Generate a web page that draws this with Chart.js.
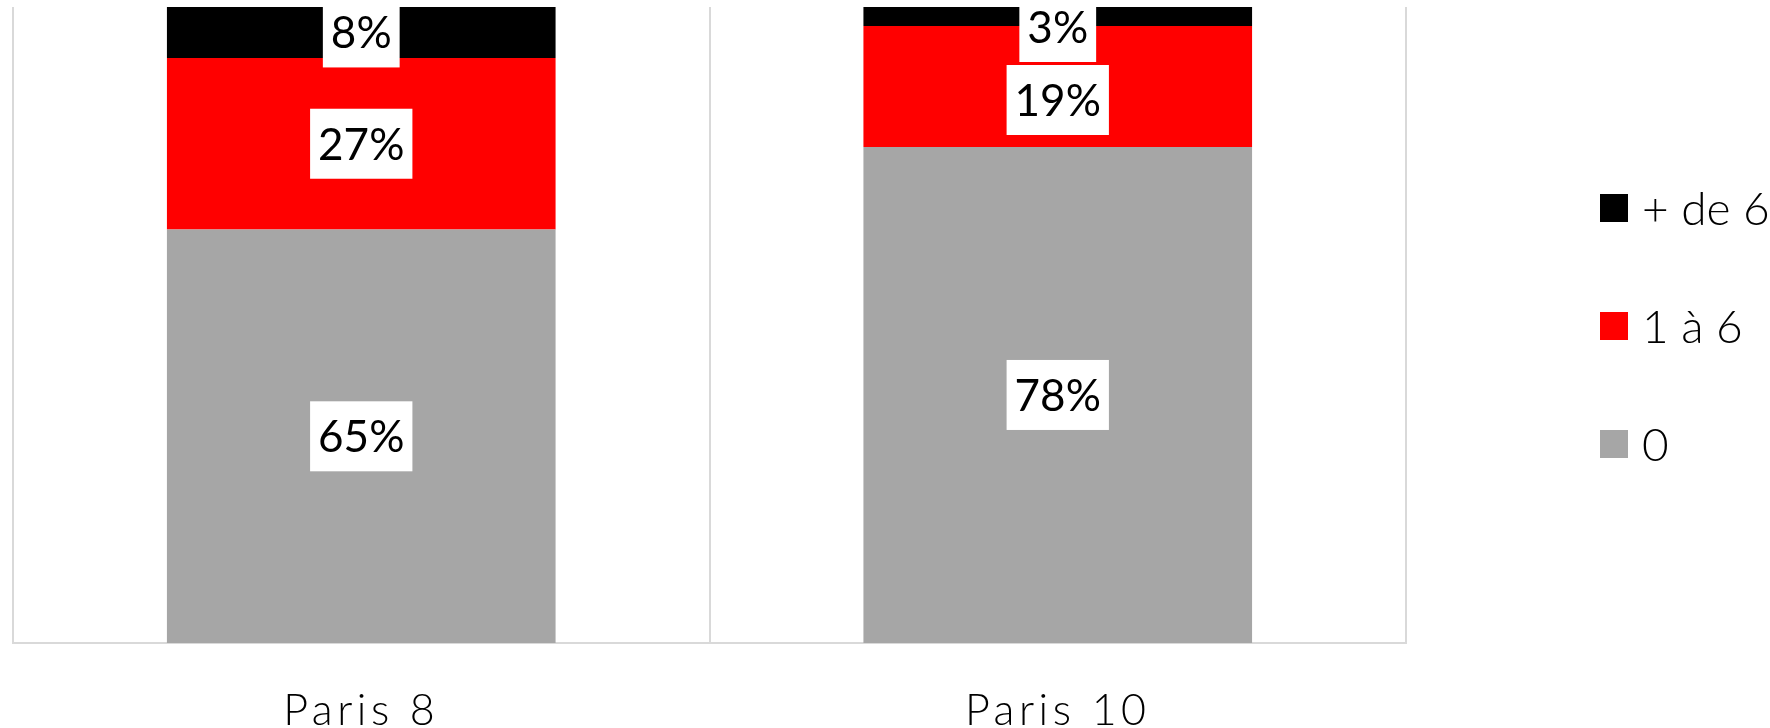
<!DOCTYPE html>
<html>
<head>
<meta charset="utf-8">
<script src="https://cdn.jsdelivr.net/npm/chart.js@4.4.1/dist/chart.umd.min.js"></script>
<style>
  html, body { margin: 0; padding: 0; background: #ffffff; }
  #wrap { width: 1770px; height: 728px; position: relative; }
</style>
</head>
<body>
<div id="wrap"><canvas id="chart"></canvas></div>
<script>
const categories = ['Paris 8', 'Paris 10']
const seriesNames = ['0', '1 à 6', '+ de 6']
const zeroValues = [65, 78]
const oneToSixValues = [27, 19]
const moreThanSixValues = [8, 3]

const colors = ['#a6a6a6', '#ff0000', '#000000']

// labels blancs au centre des segments, comme dans Excel
const boxLabels = {
  id: 'boxLabels',
  afterDatasetsDraw(chart) {
    const ctx = chart.ctx
    const area = chart.chartArea
    const fontSize = 44
    const boxH = 70
    ctx.save()
    ctx.beginPath()
    ctx.rect(area.left, area.top, area.right - area.left, area.bottom - area.top)
    ctx.clip()
    ctx.font = '400 ' + fontSize + 'px Lato'
    ctx.letterSpacing = '0px'
    ctx.textAlign = 'center'
    ctx.textBaseline = 'alphabetic'

    categories.forEach((cat, i) => {
      let prevBottom = null
      // du haut vers le bas, on pousse les étiquettes qui se chevauchent
      for (let d = chart.data.datasets.length - 1; d >= 0; d--) {
        const bar = chart.getDatasetMeta(d).data[i]
        const value = chart.data.datasets[d].data[i]
        const text = value + '%'
        const cy = (bar.y + bar.base) / 2
        let top = cy - boxH / 2
        if (top < area.top - 15) top = area.top - 15
        if (prevBottom !== null && top < prevBottom + 3) top = prevBottom + 3
        const w = ctx.measureText(text).width + 16
        ctx.fillStyle = '#ffffff'
        ctx.fillRect(bar.x - w / 2, top, w, boxH)
        ctx.fillStyle = '#000000'
        ctx.fillText(text, bar.x, top + boxH / 2 + fontSize * 0.36)
        prevBottom = top + boxH
      }
    })
    ctx.restore()
  }
}

// légende à droite
const sideLegend = {
  id: 'sideLegend',
  afterDraw(chart) {
    const ctx = chart.ctx
    const x = chart.chartArea.right + 194
    ctx.save()
    ctx.letterSpacing = '0px'
    ctx.font = '300 46px Lato'
    ctx.textAlign = 'left'
    ctx.textBaseline = 'middle'
    const sets = chart.data.datasets.slice().reverse()
    sets.forEach((ds, k) => {
      const cy = 208 + k * 118
      ctx.fillStyle = ds.backgroundColor
      ctx.fillRect(x, cy - 14, 28, 28)
      ctx.fillStyle = '#000000'
      ctx.fillText(ds.label, x + 42, cy + 2)
    })
    ctx.restore()
  }
}

// espacement des lettres pour les étiquettes de l'axe
const tickSpacing = {
  id: 'tickSpacing',
  beforeDraw(chart) { chart.ctx.letterSpacing = '4.5px' },
  beforeDatasetsDraw(chart) { chart.ctx.letterSpacing = '0px' }
}

const ctx = document.getElementById('chart')

new Chart(ctx, {
  type: 'bar',
  data: {
    labels: categories,
    datasets: [
      { label: seriesNames[0], data: zeroValues, backgroundColor: colors[0] },
      { label: seriesNames[1], data: oneToSixValues, backgroundColor: colors[1] },
      { label: seriesNames[2], data: moreThanSixValues, backgroundColor: colors[2] }
    ]
  },
  options: {
    responsive: true,
    maintainAspectRatio: false,
    animation: false,
    layout: {
      padding: { left: 13, top: 7, right: 364, bottom: 0 }
    },
    datasets: {
      bar: {
        barPercentage: 0.558,
        categoryPercentage: 1,
        borderWidth: 0
      }
    },
    plugins: {
      legend: { display: false },
      tooltip: { enabled: false }
    },
    scales: {
      x: {
        stacked: true,
        afterFit(scale) {
          scale.height = 85
        },
        grid: {
          display: true,
          offset: true,
          color: '#d9d9d9',
          lineWidth: 2,
          drawTicks: false
        },
        border: { display: true, color: '#d9d9d9', width: 2 },
        ticks: {
          color: '#000000',
          padding: 51,
          font: { family: 'Lato', size: 43, weight: '300', lineHeight: 0.8 }
        }
      },
      y: {
        stacked: true,
        display: false,
        min: 0,
        max: 100
      }
    }
  },
  plugins: [tickSpacing, boxLabels, sideLegend]
})
</script>
</body>
</html>
